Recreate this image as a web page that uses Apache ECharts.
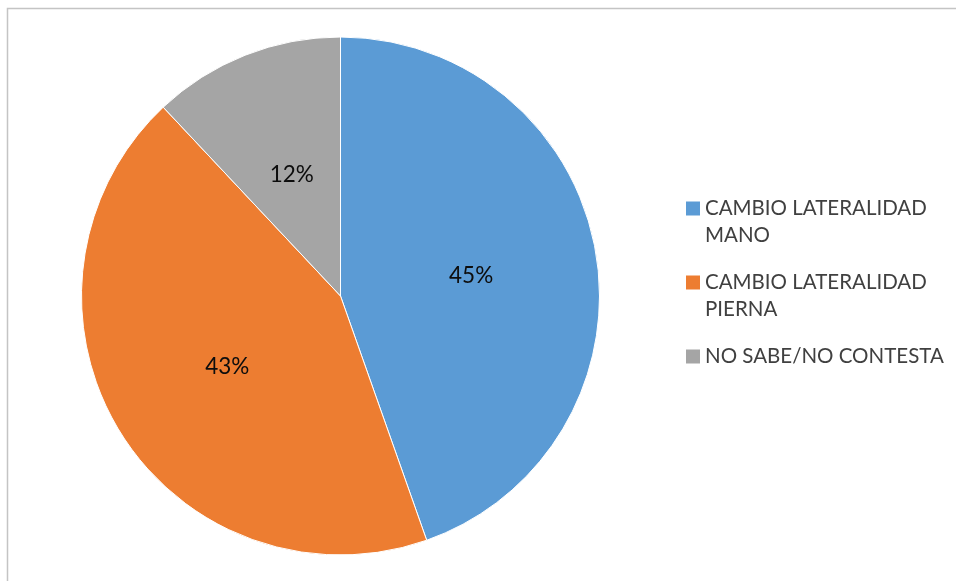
<!DOCTYPE html>
<html>
<head>
<meta charset="utf-8">
<script src="https://cdn.jsdelivr.net/npm/echarts@6/dist/echarts.min.js"></script>
<style>
html,body{margin:0;padding:0;background:#fff;}
#chart{width:956px;height:581px;}
</style>
</head>
<body>
<div id="chart"></div>
<script>
const categories = ["CAMBIO LATERALIDAD MANO", "CAMBIO LATERALIDAD PIERNA", "NO SABE/NO CONTESTA"];
const values = [44.6, 43.4, 12.0];
const colors = ["#5B9BD5", "#ED7D31", "#A5A5A5"];
const legendLines = [2, 2, 1];

const chart = echarts.init(document.getElementById('chart'));
const FONT = 'Lato';
const LH = 27;
// two-line items: square sits at top of a taller icon box so it lines up with the first text line
const ICON_TWO = 'path://M0,41 M0,0h14v14h-14z';
const ICON_ONE = 'path://M0,0h14v14h-14z';
chart.setOption({
  animation: false,
  color: colors,
  graphic: [{
    type: 'rect',
    shape: { x: 7.5, y: 8.5, width: 1000, height: 700 },
    style: { fill: 'none', stroke: '#c4c4c4', lineWidth: 1.5 },
    silent: true
  }],
  legend: {
    orient: 'vertical',
    left: 686,
    top: 195,
    padding: 0,
    itemWidth: 14,
    itemHeight: 41,
    itemGap: 20,
    symbolKeepAspect: true,
    itemStyle: { borderWidth: 0 },
    data: categories.map((c, i) => ({
      name: c,
      icon: legendLines[i] === 2 ? ICON_TWO : ICON_ONE
    })),
    textStyle: {
      fontFamily: FONT,
      fontSize: 20.5,
      color: '#404040',
      width: 256,
      overflow: 'break',
      lineHeight: LH
    }
  },
  series: [{
    type: 'pie',
    center: [340.5, 296],
    radius: 259,
    startAngle: 90,
    clockwise: true,
    data: categories.map((c, i) => ({ name: c, value: values[i] })),
    itemStyle: { borderColor: '#ffffff', borderWidth: 1 },
    label: {
      show: true,
      position: 'inside',
      formatter: function (p) { return Math.round(p.percent) + '%'; },
      fontFamily: FONT,
      fontSize: 22.5,
      color: '#0d0d0d',
      offset: [0, 2]
    },
    labelLine: { show: false },
    emphasis: { disabled: true }
  }]
});
</script>
</body>
</html>
